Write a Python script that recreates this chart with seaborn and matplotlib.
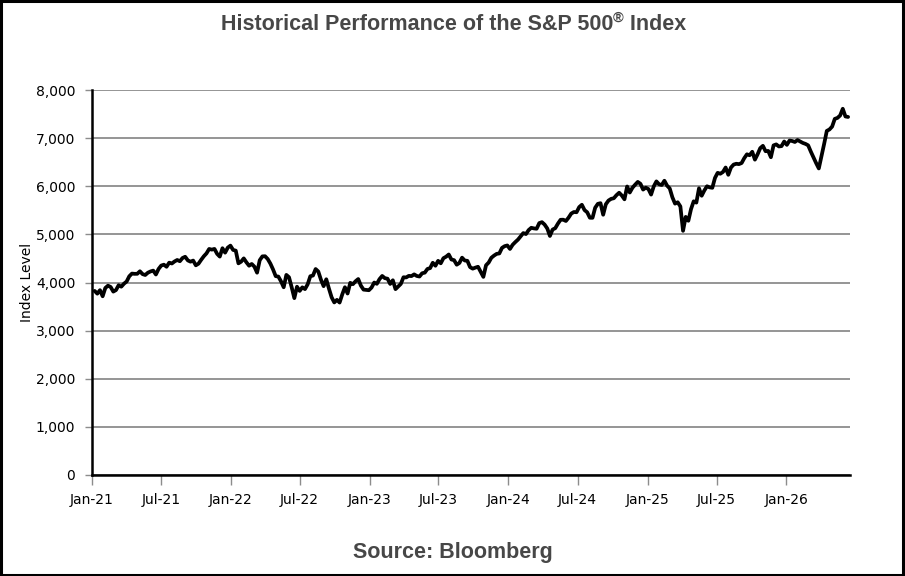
import matplotlib
matplotlib.use("Agg")
import matplotlib.pyplot as plt
import matplotlib.dates as mdates
from matplotlib.patches import Rectangle
from matplotlib.ticker import FuncFormatter, MultipleLocator
import numpy as np
import pandas as pd
import seaborn as sns

# ---- data: weekly (Friday) closing levels ----
start_date = "2021-01-08"
values_2021 = [3825, 3768, 3841, 3714, 3886, 3934, 3907, 3811, 3842, 3943, 3913, 3975,
               4020, 4129, 4185, 4180, 4181, 4233, 4174, 4156, 4204, 4230, 4247, 4166,
               4281, 4352, 4370, 4327, 4412, 4395, 4437, 4468, 4442, 4509, 4535, 4459,
               4433, 4455, 4357, 4391, 4471, 4545, 4605, 4697, 4683, 4698, 4595, 4538,
               4712, 4620, 4725, 4766]
values_2022 = [4677, 4662, 4398, 4432, 4501, 4419, 4349, 4385, 4329, 4204, 4463, 4543,
               4546, 4488, 4393, 4272, 4132, 4123, 4024, 3901, 4158, 4109, 3901, 3675,
               3912, 3825, 3899, 3863, 3962, 4130, 4145, 4280, 4228, 4058, 3924, 4067,
               3873, 3693, 3586, 3639, 3583, 3753, 3901, 3771, 3993, 3965, 4026, 4072,
               3934, 3852, 3845, 3840]
values_2023 = [3895, 3999, 3973, 4071, 4136, 4090, 4079, 3970, 4046, 3862, 3917, 3971,
               4109, 4105, 4138, 4133, 4169, 4136, 4124, 4192, 4205, 4282, 4299, 4410,
               4348, 4450, 4399, 4505, 4536, 4582, 4478, 4464, 4370, 4406, 4516, 4457,
               4450, 4320, 4288, 4309, 4327, 4224, 4117, 4358, 4415, 4514, 4559, 4595,
               4604, 4719, 4755, 4770]
values_2024 = [4697, 4784, 4840, 4891, 4959, 5027, 5006, 5089, 5137, 5124, 5117, 5234,
               5254, 5204, 5123, 4967, 5100, 5128, 5223, 5303, 5305, 5278, 5347, 5432,
               5465, 5460, 5567, 5615, 5505, 5459, 5346, 5344, 5554, 5634, 5648, 5408,
               5626, 5703, 5738, 5751, 5815, 5865, 5808, 5729, 5995, 5870, 5969, 6032,
               6090, 6051, 5931, 5971]
values_2025 = [5942, 5827, 5997, 6101, 6041, 6026, 6115, 6013, 5955, 5770, 5639, 5667,
               5581, 5074, 5363, 5283, 5525, 5687, 5660, 5958, 5803, 5912, 6000, 5977,
               5968, 6173, 6279, 6260, 6297, 6389, 6238, 6389, 6450, 6467, 6460, 6482,
               6584, 6664, 6644, 6716, 6553, 6664, 6792, 6840, 6728, 6734, 6603, 6849,
               6870, 6827, 6834, 6930]
values_2026 = [6860, 6950, 6940, 6920, 6960, 6930, 6900, 6880, 6850, 6720, 6600, 6480,
               6370, 6620, 6880, 7150, 7180, 7240, 7400, 7420, 7470, 7610, 7450, 7440]

title_main = "Historical Performance of the S&P 500"
title_mark = "®"
title_end = " Index"
source_text = "Source: Bloomberg"
y_label = "Index Level"

values = values_2021 + values_2022 + values_2023 + values_2024 + values_2025 + values_2026
dates = pd.date_range(start=start_date, periods=len(values), freq="W-FRI")
df = pd.DataFrame({"date": dates, "level": values})

# ---- figure ----
sns.set_theme(style="white")
plt.rcParams["font.family"] = ["DejaVu Sans"]

fig = plt.figure(figsize=(9.05, 5.76), dpi=100)
fig.patch.set_facecolor("white")
ax = fig.add_axes([92 / 905, 1 - 475 / 576, (850 - 92) / 905, (475 - 90) / 576])

sns.lineplot(data=df, x="date", y="level", ax=ax, color="black", linewidth=2.7)

ax.set_ylim(0, 8000)
ax.set_xlim(pd.Timestamp("2021-01-01"), pd.Timestamp("2026-06-17"))

ax.yaxis.set_major_locator(MultipleLocator(1000))
ax.yaxis.set_major_formatter(FuncFormatter(lambda v, p: f"{int(v):,}"))
ax.xaxis.set_major_locator(mdates.MonthLocator(bymonth=[1, 7]))
ax.xaxis.set_major_formatter(mdates.DateFormatter("%b-%y"))

ax.grid(axis="y", color="#8c8c8c", linewidth=1.3)
ax.grid(axis="x", visible=False)
ax.set_axisbelow(True)

for s in ["top", "right"]:
    ax.spines[s].set_visible(False)
for s in ["left", "bottom"]:
    ax.spines[s].set_color("black")
    ax.spines[s].set_linewidth(1.8)

ax.tick_params(axis="x", which="major", length=7, width=1, color="#8c8c8c",
               labelsize=10, labelcolor="black", pad=6, bottom=True)
ax.tick_params(axis="y", which="major", length=5, width=1, color="#8c8c8c",
               labelsize=10, labelcolor="black", pad=7, left=True)

ax.set_xlabel("")
ax.set_ylabel(y_label, fontsize=10, color="black", labelpad=1)

# title with superscript registered mark
title_font = dict(family="Liberation Sans", weight="bold", size=15.5, color="#474747")
fig.canvas.draw()
renderer = fig.canvas.get_renderer()
t1 = fig.text(0, 0, title_main, **title_font)
t2 = fig.text(0, 0, title_mark, family="Liberation Sans", weight="bold", size=10.5, color="#474747")
t3 = fig.text(0, 0, title_end, **title_font)
w1 = t1.get_window_extent(renderer).width
w2 = t2.get_window_extent(renderer).width
w3 = t3.get_window_extent(renderer).width
total = w1 + w2 + w3
x0 = (905 - total) / 2 + 1
ybase = 576 - 30
t1.set_position((x0 / 905, ybase / 576))
t2.set_position(((x0 + w1) / 905, (ybase + 8) / 576))
t3.set_position(((x0 + w1 + w2) / 905, ybase / 576))

fig.text(453 / 905, 1 - 558 / 576, source_text, ha="center", va="baseline",
         family="Liberation Sans", weight="bold", size=15.5, color="#474747")

fig.patches.append(Rectangle((0.001, 0.0015), 0.997, 0.997, transform=fig.transFigure,
                             fill=False, edgecolor="black", linewidth=2.2))

fig.savefig("out.png", dpi=100)
